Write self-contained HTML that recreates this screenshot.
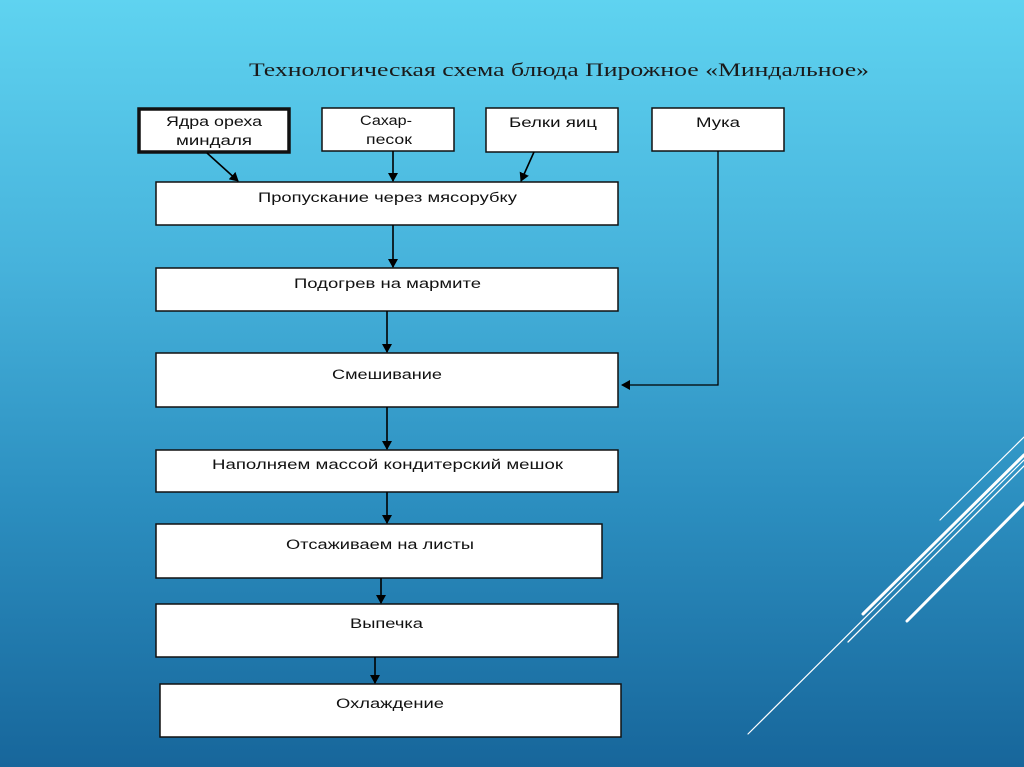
<!DOCTYPE html>
<html><head><meta charset="utf-8"><style>
html,body{margin:0;padding:0}
body{width:1024px;height:767px;overflow:hidden;background:linear-gradient(to bottom,#5fd3f0 0%,#46b2db 35%,#2c8fc0 65%,#17669b 100%)}
svg{display:block}
text{font-family:"Liberation Sans",sans-serif;font-size:13.5px;fill:#111}
</style></head><body>
<svg width="1024" height="767" viewBox="0 0 1024 767">
<defs><marker id="a" markerWidth="10" markerHeight="10" refX="8" refY="5" orient="auto" markerUnits="userSpaceOnUse"><path d="M0,0 L9,5 L0,10 z" fill="#000"/></marker></defs>
<text x="249" y="76" textLength="620" lengthAdjust="spacingAndGlyphs" style="font-family:'Liberation Serif',serif;font-size:19px;fill:#1a1a1a">Технологическая схема блюда Пирожное «Миндальное»</text>
<g fill="#fff" stroke="#111" stroke-width="1.5">
<rect x="139" y="109" width="150" height="43" stroke-width="3.5"/>
<rect x="322" y="108" width="132" height="43"/>
<rect x="486" y="108" width="132" height="44"/>
<rect x="652" y="108" width="132" height="43"/>
<rect x="156" y="182" width="462" height="43"/>
<rect x="156" y="268" width="462" height="43"/>
<rect x="156" y="353" width="462" height="54"/>
<rect x="156" y="450" width="462" height="42"/>
<rect x="156" y="524" width="446" height="54"/>
<rect x="156" y="604" width="462" height="53"/>
<rect x="160" y="684" width="461" height="53"/>
</g>
<g>
<text x="166" y="126" textLength="96" lengthAdjust="spacingAndGlyphs">Ядра ореха</text>
<text x="176" y="145" textLength="76" lengthAdjust="spacingAndGlyphs">миндаля</text>
<text x="360" y="125" textLength="52" lengthAdjust="spacingAndGlyphs">Сахар-</text>
<text x="366" y="144" textLength="46" lengthAdjust="spacingAndGlyphs">песок</text>
<text x="509" y="127" textLength="88" lengthAdjust="spacingAndGlyphs">Белки яиц</text>
<text x="696" y="127" textLength="44" lengthAdjust="spacingAndGlyphs">Мука</text>
<text x="258" y="202" textLength="259" lengthAdjust="spacingAndGlyphs">Пропускание через мясорубку</text>
<text x="294" y="288" textLength="187" lengthAdjust="spacingAndGlyphs">Подогрев на мармите</text>
<text x="332" y="379" textLength="110" lengthAdjust="spacingAndGlyphs">Смешивание</text>
<text x="212" y="469" textLength="351" lengthAdjust="spacingAndGlyphs">Наполняем массой кондитерский мешок</text>
<text x="286" y="549" textLength="188" lengthAdjust="spacingAndGlyphs">Отсаживаем на листы</text>
<text x="350" y="628" textLength="73" lengthAdjust="spacingAndGlyphs">Выпечка</text>
<text x="336" y="708" textLength="108" lengthAdjust="spacingAndGlyphs">Охлаждение</text>
</g>
<g stroke="#000" stroke-width="1.6" fill="none" marker-end="url(#a)">
<line x1="207" y1="153" x2="238" y2="181"/>
<line x1="393" y1="151" x2="393" y2="181"/>
<line x1="534" y1="152" x2="521" y2="181"/>
<polyline points="718,151 718,385 622,385" stroke-width="1.3"/>
<line x1="393" y1="225" x2="393" y2="267"/>
<line x1="387" y1="311" x2="387" y2="352"/>
<line x1="387" y1="407" x2="387" y2="449"/>
<line x1="387" y1="492" x2="387" y2="523"/>
<line x1="381" y1="578" x2="381" y2="603"/>
<line x1="375" y1="657" x2="375" y2="683"/>
</g>
<g stroke="#fff" stroke-linecap="round">
<line x1="940" y1="520" x2="1024" y2="437" stroke-width="1.2"/>
<line x1="863" y1="614" x2="1024" y2="455" stroke-width="3"/>
<line x1="848" y1="642" x2="1024" y2="466" stroke-width="1.3"/>
<line x1="907" y1="621" x2="1024" y2="503" stroke-width="3"/>
<line x1="748" y1="734" x2="1024" y2="460" stroke-width="1.2"/>
</g>
</svg>
</body></html>
